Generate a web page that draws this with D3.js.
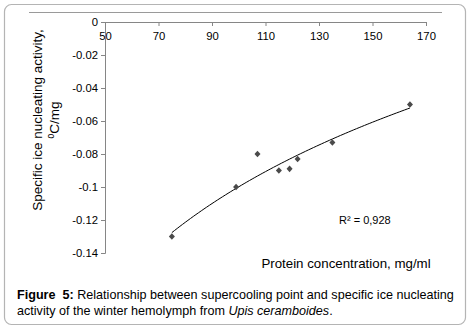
<!DOCTYPE html>
<html>
<head>
<meta charset="utf-8">
<script src="https://cdn.jsdelivr.net/npm/d3@7"></script>
<style>
  body { margin: 0; background: #fff; }
  svg { display: block; font-family: Arial, "Liberation Sans", sans-serif; }
</style>
</head>
<body>
<div id="chart"></div>
<script>
// protein concentration (mg/ml) vs specific ice nucleating activity (oC/mg)
var protein = [75, 99, 107, 115, 119, 122, 135, 164];
var activity = [-0.13, -0.1, -0.08, -0.09, -0.089, -0.083, -0.073, -0.05];
var xTicks = [50, 70, 90, 110, 130, 150, 170];
var yTicks = [0, -0.02, -0.04, -0.06, -0.08, -0.1, -0.12, -0.14];
var r2Label = "R² = 0,928";

var width = 470, height = 328;

var svg = d3.select("#chart").append("svg")
    .attr("width", width)
    .attr("height", height);

// outer frame
svg.append("rect")
    .attr("x", 4.5).attr("y", 4.5)
    .attr("width", 461).attr("height", 320)
    .attr("rx", 7)
    .attr("fill", "#fff")
    .attr("stroke", "#b4b4b4")
    .attr("stroke-width", 1.2);

// thin line at top of plot area
svg.append("line")
    .attr("x1", 29).attr("x2", 442)
    .attr("y1", 12.5).attr("y2", 12.5)
    .attr("stroke", "#9a9a9a");

var x = d3.scaleLinear().domain([50, 170]).range([105, 426]);
var y = d3.scaleLinear().domain([0, -0.14]).range([22, 253]);

// x axis sits at y = 0 (top)
var xAxis = svg.append("g")
    .attr("transform", "translate(0," + y(0) + ")")
    .call(d3.axisBottom(x).tickValues(xTicks).tickSize(4).tickPadding(3).tickFormat(d3.format("d")));

var yAxis = svg.append("g")
    .attr("transform", "translate(" + x(50) + ",0)")
    .call(d3.axisLeft(y).tickValues(yTicks).tickSize(4).tickPadding(3)
        .tickFormat(function (d) { return d === 0 ? "0" : String(+d.toFixed(2)); }));

[xAxis, yAxis].forEach(function (g) {
    g.select(".domain").attr("stroke", "#868686").attr("stroke-width", 1);
    g.selectAll(".tick line").attr("stroke", "#868686");
    g.selectAll(".tick text")
        .attr("fill", "#000")
        .style("font-size", "11.3px")
        .style("font-family", "Arial, 'Liberation Sans', sans-serif");
});
xAxis.selectAll(".tick text").attr("dy", "0.95em");

// logarithmic trend line fitted to the points: y = a ln(x) + b
var lx = protein.map(function (d) { return Math.log(d); });
var mx = d3.mean(lx), my = d3.mean(activity);
var sxy = d3.sum(lx, function (d, i) { return (d - mx) * (activity[i] - my); });
var sxx = d3.sum(lx, function (d) { return (d - mx) * (d - mx); });
var a = sxy / sxx, b = my - a * mx;

var trendX = d3.range(d3.min(protein), d3.max(protein) + 0.5, 1);
svg.append("path")
    .datum(trendX)
    .attr("fill", "none")
    .attr("stroke", "#000")
    .attr("stroke-width", 1)
    .attr("d", d3.line()
        .x(function (d) { return x(d); })
        .y(function (d) { return y(a * Math.log(d) + b); }));

// diamond markers
svg.selectAll(".pt")
    .data(protein)
    .enter().append("path")
    .attr("class", "pt")
    .attr("transform", function (d, i) { return "translate(" + x(d) + "," + y(activity[i]) + ")"; })
    .attr("d", "M0,-3.3L3,0L0,3.3L-3,0Z")
    .attr("fill", "#4a4a4a");

svg.append("text")
    .attr("x", 339).attr("y", 224)
    .style("font-size", "11px")
    .text(r2Label);

// axis titles
svg.append("text")
    .attr("x", 346).attr("y", 268)
    .attr("text-anchor", "middle")
    .style("font-size", "13.3px")
    .text("Protein concentration, mg/ml");

var yTitle = svg.append("text")
    .attr("transform", "translate(0,120) rotate(-90)")
    .attr("text-anchor", "middle")
    .style("font-size", "13.5px");
yTitle.append("tspan").attr("x", 0).attr("y", 42).text("Specific ice nucleating activity,");
var l2 = yTitle.append("tspan").attr("x", 0).attr("y", 59);
l2.append("tspan").attr("baseline-shift", "super").style("font-size", "8.5px").text("0");
l2.append("tspan").text("C/mg");

// caption
var cap = svg.append("text").style("font-size", "12.6px").attr("fill", "#000");
var c1 = cap.append("tspan").attr("x", 17).attr("y", 299);
c1.append("tspan").style("font-weight", "bold").style("white-space", "pre").text("Figure  5: ");
c1.append("tspan").text("Relationship between supercooling point and specific ice nucleating");
var c2 = cap.append("tspan").attr("x", 17).attr("y", 315);
c2.append("tspan").text("activity of the winter hemolymph from ");
c2.append("tspan").style("font-style", "italic").text("Upis ceramboides");
c2.append("tspan").text(".");
</script>
</body>
</html>
